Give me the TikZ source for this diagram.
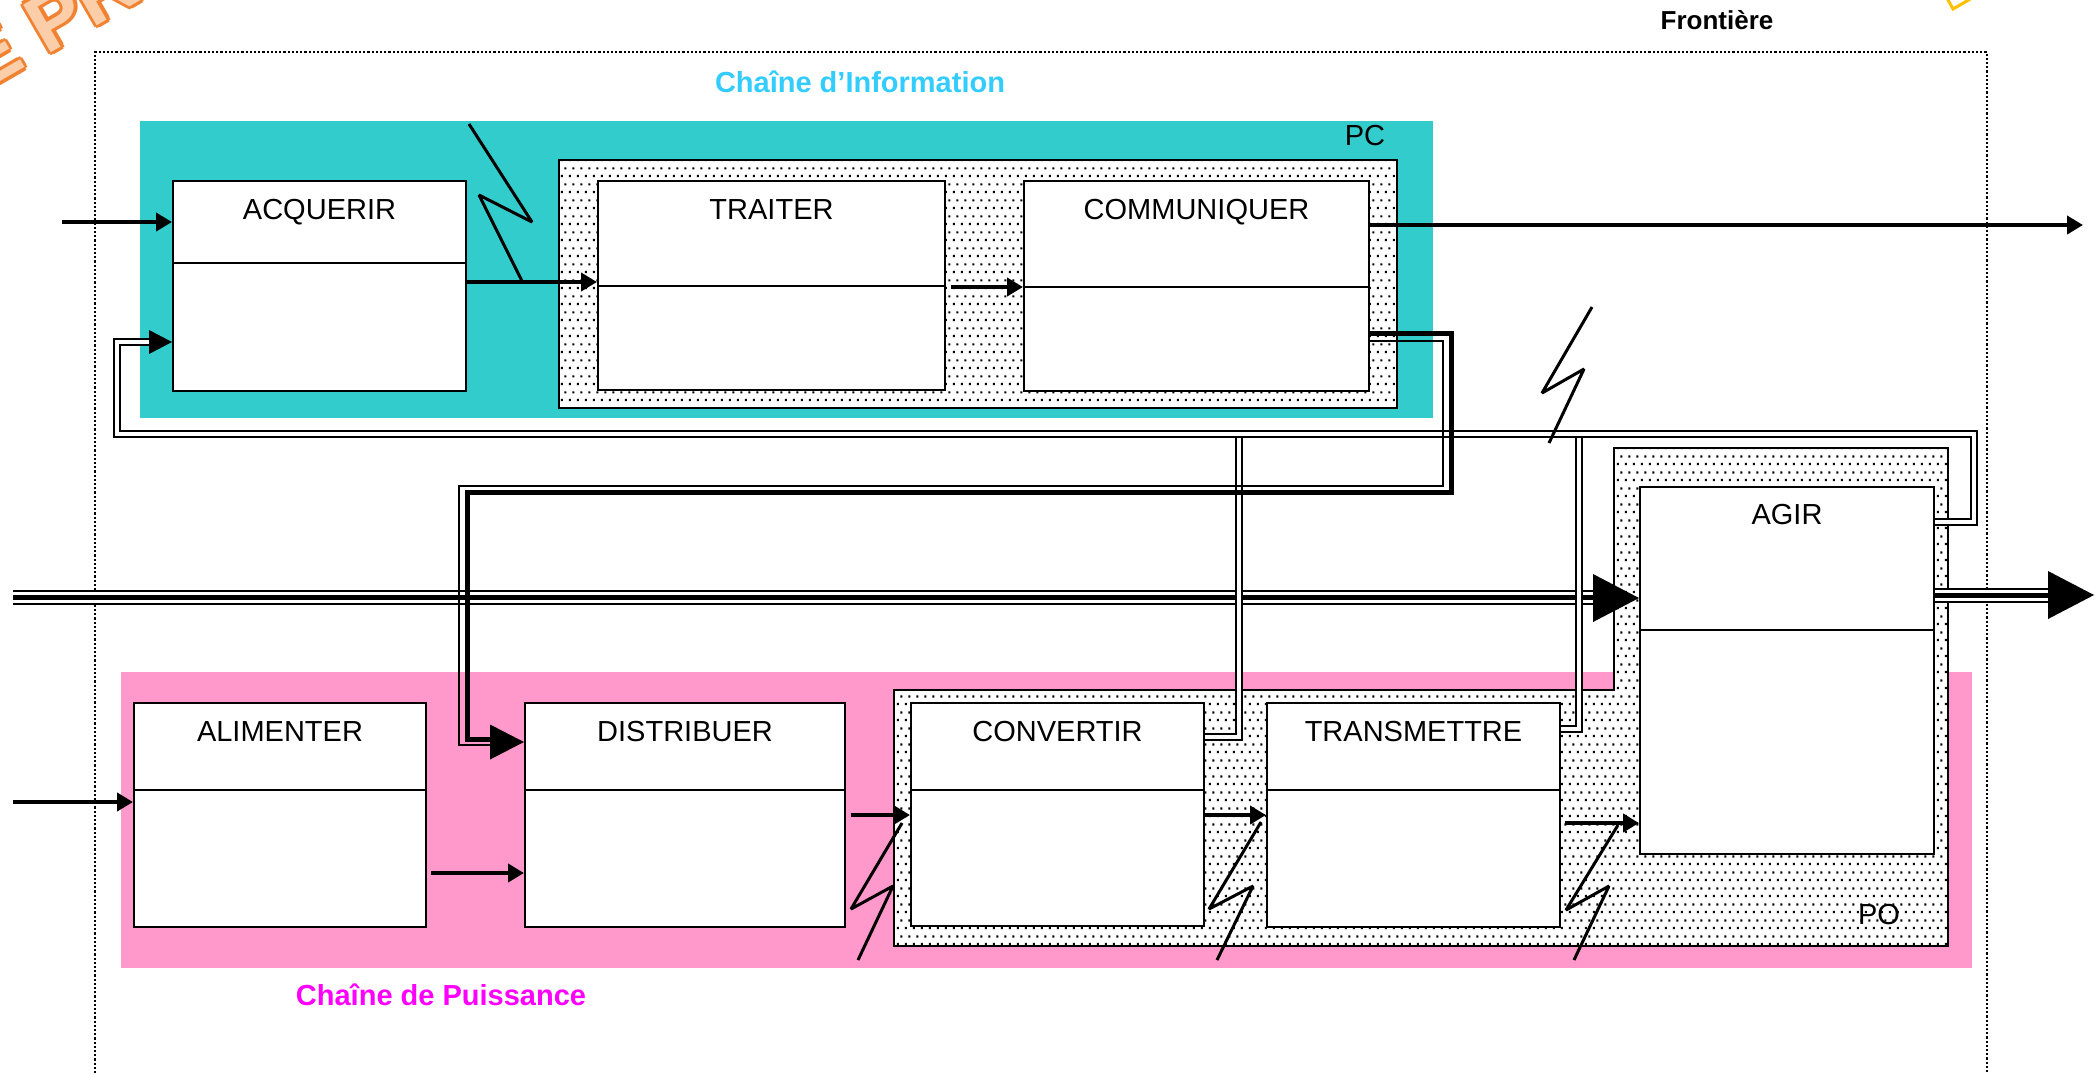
\documentclass[tikz,border=0pt]{standalone}
\usepackage{fontspec}
\setmainfont{Liberation Sans}
\usetikzlibrary{arrows.meta,patterns,calc}
\pgfdeclarepatternformonly{stip}{\pgfqpoint{0pt}{0pt}}{\pgfqpoint{4pt}{8pt}}{\pgfqpoint{4pt}{8pt}}{%
  \pgfpathrectangle{\pgfqpoint{0.5pt}{0.5pt}}{\pgfqpoint{1.1pt}{1.1pt}}%
  \pgfpathrectangle{\pgfqpoint{2.5pt}{4.5pt}}{\pgfqpoint{1.1pt}{1.1pt}}%
  \pgfusepath{fill}}
\definecolor{pccyan}{RGB}{51,204,204}
\definecolor{popink}{RGB}{255,153,204}
\definecolor{infoblue}{RGB}{51,204,255}
\definecolor{puismag}{RGB}{255,0,255}
\definecolor{wmorange}{RGB}{240,130,50}
\definecolor{wmfill}{RGB}{251,205,168}
\definecolor{wmyellow}{RGB}{255,192,0}
\begin{document}
\begin{tikzpicture}[x=0.5pt,y=-0.5pt,
  box/.style={draw, line width=1pt, fill=white, inner sep=0pt, anchor=north west},
  lbl/.style={font=\fontsize{14.5}{17}\selectfont, anchor=base, inner sep=0pt},
  ttl/.style={font=\bfseries\fontsize{14.5}{17}\selectfont, inner sep=0pt},
  flow/.style={line width=2pt, -{Triangle[length=8pt,width=9pt]}},
  bolt/.style={line width=1.5pt, line join=bevel},
  dbl/.style={double, line width=1pt, double distance=2pt},
  stipple/.style={preaction={fill=white}, pattern=stip, draw, line width=1pt},
  triple/.style={draw=black, line width=7.5pt, postaction={draw=white, line width=5.5pt}, postaction={draw=black, line width=2.5pt}},
  wm/.style={font=\bfseries\fontsize{40}{40}\selectfont, anchor=base west, rotate=30, inner sep=0pt},
]
\useasboundingbox (0,0) rectangle (2096,1073);
\fill[white] (0,0) rectangle (2096,1073);

% watermark fragments
\foreach \dx/\dy [count=\i] in {-3.5/0,3.5/0,0/-3.5,0/3.5,-2.5/-2.5,2.5/2.5,-2.5/2.5,2.5/-2.5}
  \node[wm, text=wmorange] (wmo\i) at ($(-19,93)+(\dx,\dy)$) {E PRO};
\node[wm, text=wmfill] (wmf) at (-19,93) {E PRO};
\draw[wmyellow, line width=1.5pt] (1947,-2) -- (1953,9) -- (1972,-2);

% frontier
\draw[line width=1.1pt, dash pattern=on 1.1pt off 1pt] (95,1090) -- (95,52) -- (1987,52) -- (1987,1090);
\node[font=\bfseries\fontsize{13}{15}\selectfont, inner sep=0pt] (front) at (1717,20) {Frontière};

% coloured chains
\fill[pccyan] (140,121) rectangle (1433,418);
\fill[popink] (121,672) rectangle (1972,968);
\node[ttl, text=infoblue] (tinfo) at (860,82) {Chaîne d’Information};
\node[ttl, text=puismag] (tpuis) at (441,995) {Chaîne de Puissance};

% stippled zones
\path[stipple] (559,160) rectangle (1397,408);
\path[stipple] (1614,448) -- (1948,448) -- (1948,946) -- (894,946) -- (894,690) -- (1614,690) -- cycle;
\node[lbl] (pc) at (1365,145) {PC};
\node[lbl] (po) at (1879,924) {PO};

% boxes
\node[box, minimum width=146.5pt, minimum height=105pt] (acq) at (172,180) {};
\node[box, minimum width=173.5pt, minimum height=104.5pt] (trai) at (597,180) {};
\node[box, minimum width=172.5pt, minimum height=105pt] (comm) at (1023,180) {};
\node[box, minimum width=146pt, minimum height=112pt] (alim) at (133,702) {};
\node[box, minimum width=160pt, minimum height=112pt] (dist) at (524,702) {};
\node[box, minimum width=146.5pt, minimum height=111.5pt] (conv) at (910,702) {};
\node[box, minimum width=146.5pt, minimum height=112pt] (trans) at (1266,702) {};
\node[box, minimum width=147pt, minimum height=183.5pt] (agir) at (1639,486) {};

\draw[line width=1pt] (acq.west |- 0,263) -- (acq.east |- 0,263);
\draw[line width=1pt] (trai.west |- 0,286) -- (trai.east |- 0,286);
\draw[line width=1pt] (comm.west |- 0,287) -- (comm.east |- 0,287);
\draw[line width=1pt] (alim.west |- 0,790) -- (alim.east |- 0,790);
\draw[line width=1pt] (dist.west |- 0,790) -- (dist.east |- 0,790);
\draw[line width=1pt] (conv.west |- 0,790) -- (conv.east |- 0,790);
\draw[line width=1pt] (trans.west |- 0,790) -- (trans.east |- 0,790);
\draw[line width=1pt] (agir.west |- 0,630) -- (agir.east |- 0,630);

\node[lbl] (lacq) at ($(acq.north)+(0,39)$) {ACQUERIR};
\node[lbl] (ltrai) at ($(trai.north)+(0,39)$) {TRAITER};
\node[lbl] (lcomm) at ($(comm.north)+(0,39)$) {COMMUNIQUER};
\node[lbl] (lalim) at ($(alim.north)+(0,39)$) {ALIMENTER};
\node[lbl] (ldist) at ($(dist.north)+(0,39)$) {DISTRIBUER};
\node[lbl] (lconv) at ($(conv.north)+(0,39)$) {CONVERTIR};
\node[lbl] (ltrans) at ($(trans.north)+(0,39)$) {TRANSMETTRE};
\node[lbl] (lagir) at ($(agir.north)+(0,38)$) {AGIR};

% named free ends
\coordinate (inacq) at (62,222);
\coordinate (outcomm) at (2083,225);
\coordinate (inalim) at (13,802);
\coordinate (inenergy) at (13,597);
\coordinate (outenergy) at (2094,595);

% single flow arrows
\draw[flow] (inacq) -- (acq.west |- inacq);
\draw[flow] (comm.east |- outcomm) -- (outcomm);
\draw[flow] (acq.east |- 0,282) -- (trai.west |- 0,282);
\draw[flow] ($(trai.east |- 0,287)+(5,0)$) -- (comm.west |- 0,287);
\draw[flow] (inalim) -- (alim.west |- inalim);
\draw[flow] ($(alim.east |- 0,873)+(4,0)$) -- (dist.west |- 0,873);
\draw[flow] ($(dist.east |- 0,815)+(5,0)$) -- (conv.west |- 0,815);
\draw[flow] (conv.east |- 0,815) -- (trans.west |- 0,815);
\draw[flow] ($(trans.east |- 0,823)+(4,0)$) -- (agir.west |- 0,823);

% energy (triple line)
\draw[triple] (inenergy) -- ($(agir.west |- 0,597)+(-44,0)$);
\fill (agir.west |- 0,598) -- ++(-46,-24) -- ++(0,48) -- cycle;
\draw[triple] (agir.east |- 0,595) -- ($(outenergy)+(-44,0)$);
\fill (outenergy) -- ++(-46,-24) -- ++(0,48) -- cycle;

% information double lines from CONVERTIR / TRANSMETTRE
\draw[dbl] (conv.east |- 0,737) -- (1239,737) -- (1239,437);
\draw[dbl] (trans.east |- 0,729) -- (1579,729) -- (1579,437);

% feedback loop AGIR -> ACQUERIR
\draw[dbl] (agir.east |- 0,522) -- (1974,522) -- (1974,434) -- (117,434) -- (117,342) -- (151,342);
\fill (acq.west |- 0,342) -- ++(-23,-12) -- ++(0,24) -- cycle;

% orders COMMUNIQUER -> DISTRIBUER (thick + thin)
\draw[line width=2.5pt] (comm.east |- 0,333) -- (1451,333) -- (1451,492) -- (467,492) -- (467,739) -- (492,739);
\draw[line width=1pt] (comm.east |- 0,341) -- (1443,341) -- (1443,486) -- (459,486) -- (459,745) -- (492,745);
\fill (dist.west |- 0,742) -- ++(-34,-17.5) -- ++(0,35) -- cycle;

% lightning symbols
\draw[bolt] (469,124) -- (532,222) -- (479,195) -- (522,281);
\draw[bolt] (1592,307) -- (1542,393) -- (1584,369) -- (1549,443);
\draw[bolt] (902,823) -- (851,909) -- (893,886) -- (858,960);
\draw[bolt] (1261,822) -- (1209,909) -- (1253,886) -- (1217,960);
\draw[bolt] (1618,825) -- (1566,910) -- (1609,886) -- (1574,960);
\end{tikzpicture}
\end{document}
